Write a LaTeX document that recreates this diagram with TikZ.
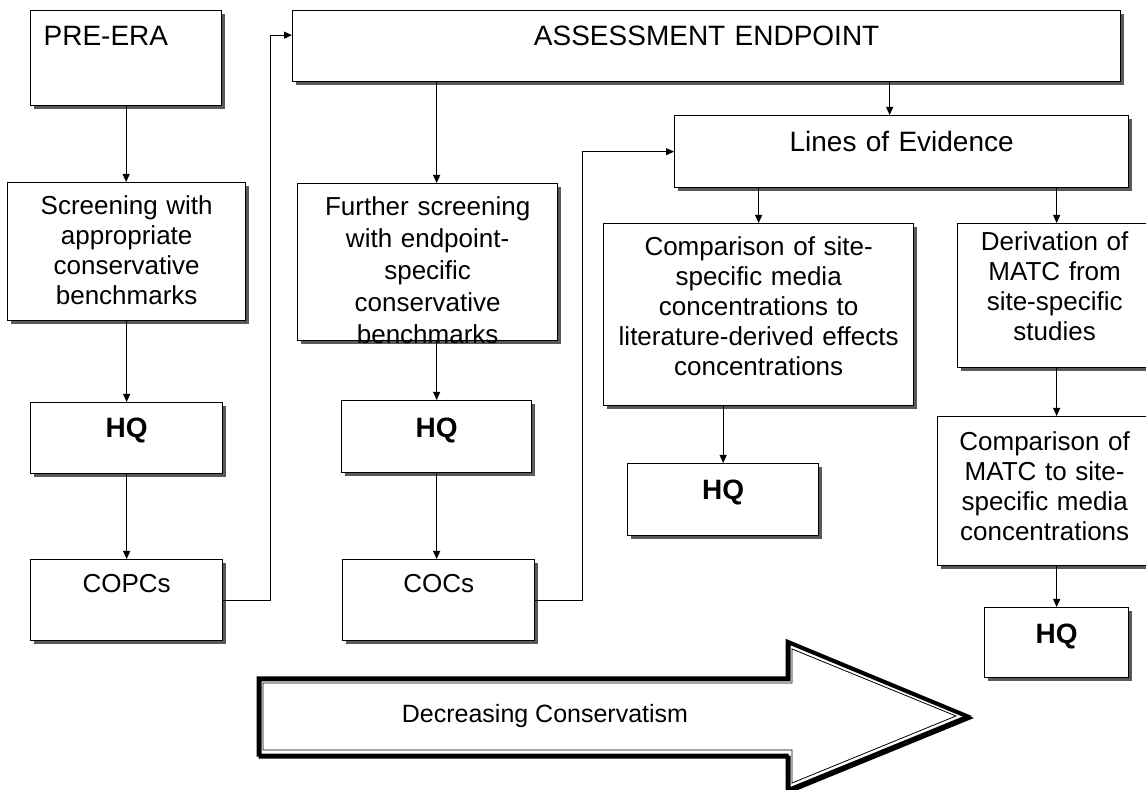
\documentclass[tikz,border=0pt]{standalone}
\usepackage{fontspec}
\setmainfont{Liberation Sans}
\usetikzlibrary{arrows.meta,shadows}

\tikzset{
  box/.style={draw,line width=0.65pt,fill=white,anchor=north west,
    inner xsep=0pt,inner ysep=0pt,align=center,
    drop shadow={shadow xshift=1.5pt,shadow yshift=-1.5pt,fill=black!65,opacity=1},
    font=\fontsize{13}{15}\selectfont},
  big/.style={font=\fontsize{14}{16}\selectfont},
  hq/.style={font=\fontsize{14}{16}\selectfont\bfseries},
  arr/.style={-{Triangle[length=4pt,width=3.5pt]},line width=0.5pt},
}

\begin{document}
\begin{tikzpicture}[x=0.5pt,y=-0.5pt]
\useasboundingbox[fill=white] (0,0) rectangle (1146,790);

% screening column
\node[box,big,align=left,inner xsep=6.5pt,text width=82.5pt,text height=17.5pt,text depth=30pt] (pre) at (30,10) {PRE-ERA};
\node[box,text width=119pt,text height=16pt,text depth=53pt] (scr) at (7,182) {Screening with\\appropriate\\conservative\\benchmarks};
\node[box,hq,text width=96pt,text height=17.5pt,text depth=18pt] (hqa) at (30,402) {HQ};
\node[box,text width=96pt,text height=16.5pt,text depth=24pt] (copc) at (30,559) {COPCs};

% endpoint column
\node[box,big,text width=414pt,text height=17.5pt,text depth=18pt] (ass) at (292,10) {ASSESSMENT ENDPOINT};
\node[box,text width=130pt,text height=16pt,text depth=62.5pt,font=\fontsize{13}{16}\selectfont] (fur) at (297,183) {Further screening\\with endpoint-\\specific\\conservative\\benchmarks};
\node[box,hq,text width=95pt,text height=18.5pt,text depth=17.5pt] (hqb) at (341,400) {HQ};
\node[box,text width=96pt,text height=16.5pt,text depth=24pt] (coc) at (342,559) {COCs};

% lines of evidence
\node[box,big,text width=227pt,text height=18pt,text depth=18pt] (loe) at (674,115) {Lines of Evidence};
\node[box,text width=155pt,text height=16pt,text depth=75pt] (cmp) at (603,223) {Comparison of site-\\specific media\\concentrations to\\literature-derived effects\\concentrations};
\node[box,hq,text width=95.5pt,text height=18pt,text depth=18pt] (hqc) at (627,463) {HQ};
\node[box,text width=97pt,text height=13.5pt,text depth=58.5pt] (der) at (957,223) {Derivation of\\MATC from\\site-specific\\studies};
\node[box,text width=107pt,text height=17pt,text depth=57.5pt] (mat) at (937,416) {Comparison of\\MATC to site-\\specific media\\concentrations};
\node[box,hq,text width=72pt,text height=18pt,text depth=17pt] (hqd) at (984,607) {HQ};

\coordinate (f) at ([xshift=4.5pt]fur.north);
\coordinate (l) at ([xshift=-6pt]loe.north);

\draw[arr] (pre.south) -- (pre.south |- scr.north);
\draw[arr] (scr.south) -- (hqa.north);
\draw[arr] (hqa.south) -- (copc.north);
\draw[arr] (copc.east) -- ++(47,0) |- ([yshift=5.5pt]ass.west);
\draw[arr] (f |- ass.south) -- (f);
\draw[arr] (hqb.north |- fur.south) -- (hqb.north);
\draw[arr] (hqb.south) -- (hqb.south |- coc.north);
\draw[arr] (coc.east) -- ++(47,0) |- (loe.west);
\draw[arr] (l |- ass.south) -- (l);
\draw[arr] (cmp.north |- loe.south) -- (cmp.north);
\draw[arr] (hqc.north |- cmp.south) -- (hqc.north);
\draw[arr] (hqd.north |- loe.south) -- (hqd.north |- der.north);
\draw[arr] (hqd.north |- der.south) -- (hqd.north |- mat.north);
\draw[arr] (hqd.north |- mat.south) -- (hqd.north);

% big arrow
\draw[line width=1.5pt,shift={(2,2)}] (258,678) -- (787,678) -- (787,641) -- (968,716) -- (787,790) -- (787,755) -- (258,755) -- cycle;
\draw[line width=1.5pt] (258,678) -- (787,678) -- (787,641) -- (968,716) -- (787,790) -- (787,755) -- (258,755) -- cycle;
\draw[line width=0.4pt] (263,683) -- (792,683) -- (792,649) -- (956,716) -- (792,783) -- (792,750) -- (263,750) -- cycle;
\node[font=\fontsize{12.5}{14}\selectfont] (dec) at (545,716) {Decreasing Conservatism};
\end{tikzpicture}
\end{document}
